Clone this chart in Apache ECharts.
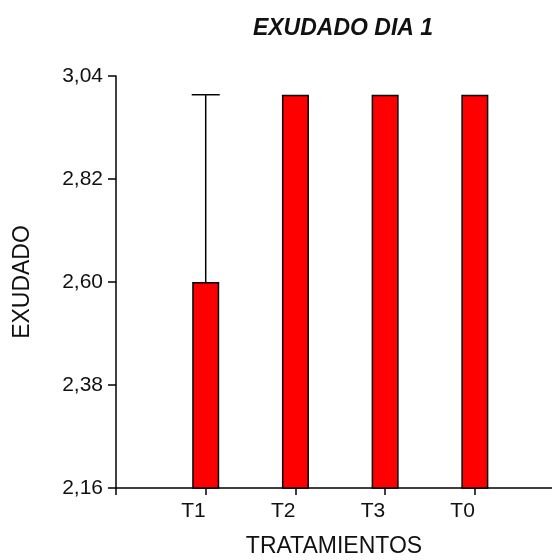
<!DOCTYPE html>
<html><head><meta charset="utf-8">
<script src="https://cdn.jsdelivr.net/npm/echarts@6/dist/echarts.min.js"></script>
<style>html,body{margin:0;padding:0;background:#fff}#c{width:552px;height:560px}</style>
</head><body><div id="c"></div>
<script>
var categories = ['T1', 'T2', 'T3', 'T0'];
var values = [2.60, 3.00, 3.00, 3.00];
var errorUpper = [3.00, 3.00, 3.00, 3.00];
var yTicks = [2.16, 2.38, 2.60, 2.82, 3.04];

var barData = values.map(function (v, i) { return [i + 1, v]; });
var errData = values.map(function (v, i) { return [i + 1, v, errorUpper[i]]; });

var chart = echarts.init(document.getElementById('c'), null, {renderer: 'canvas'});
var font = 'Liberation Sans, Arial, sans-serif';
chart.setOption({
  animation: false,
  title: {
    text: 'EXUDADO DIA 1', left: 338, top: 12, textAlign: 'center',
    textStyle: {fontFamily: font, fontSize: 23, fontWeight: 'bold', fontStyle: 'italic', color: '#111'}
  },
  grid: {left: 116, right: 0, top: 76, bottom: 72, containLabel: false, outerBoundsMode: 'none'},
  xAxis: {
    type: 'value', min: 0, max: 4.86, interval: 1,
    name: 'TRATAMIENTOS', nameLocation: 'middle', nameGap: 47,
    nameTextStyle: {fontFamily: font, fontSize: 23, color: '#111'},
    axisLine: {show: true, lineStyle: {color: '#000', width: 1.5}},
    axisTick: {show: true, length: 7, lineStyle: {color: '#000', width: 1.5}},
    splitLine: {show: false},
    axisLabel: {
      fontFamily: font, fontSize: 21, color: '#111', margin: 13, showMaxLabel: false,
      align: 'right',
      formatter: function (v) { return categories[Math.round(v) - 1] || ''; }
    }
  },
  yAxis: {
    type: 'value', min: yTicks[0], max: yTicks[yTicks.length - 1], interval: 0.22,
    name: 'EXUDADO', nameLocation: 'middle', nameGap: 82, nameRotate: 90,
    nameTextStyle: {fontFamily: font, fontSize: 23, color: '#111'},
    axisLine: {show: true, lineStyle: {color: '#000', width: 1.5}},
    axisTick: {show: true, length: 8, lineStyle: {color: '#000', width: 1.5}},
    splitLine: {show: false},
    axisLabel: {
      fontFamily: font, fontSize: 21, color: '#111', margin: 13,
      formatter: function (v) { return v.toFixed(2).replace('.', ','); }
    }
  },
  series: [
    {
      type: 'bar', data: barData, barWidth: 27,
      itemStyle: {color: '#ff0000', borderColor: '#000', borderWidth: 1.5}
    },
    {
      type: 'custom', data: errData, z: 1,
      renderItem: function (params, api) {
        var x = api.value(0), v = api.value(1), hi = api.value(2);
        if (!(hi > v)) return {type: 'group', children: []};
        var p0 = api.coord([x, v]);
        var p1 = api.coord([x, hi]);
        var st = {stroke: '#000', lineWidth: 1.5};
        return {type: 'group', children: [
          {type: 'line', shape: {x1: p0[0], y1: p0[1], x2: p1[0], y2: p1[1]}, style: st},
          {type: 'line', shape: {x1: p1[0] - 14, y1: p1[1], x2: p1[0] + 14, y2: p1[1]}, style: st}
        ]};
      }
    }
  ]
});
</script></body></html>
